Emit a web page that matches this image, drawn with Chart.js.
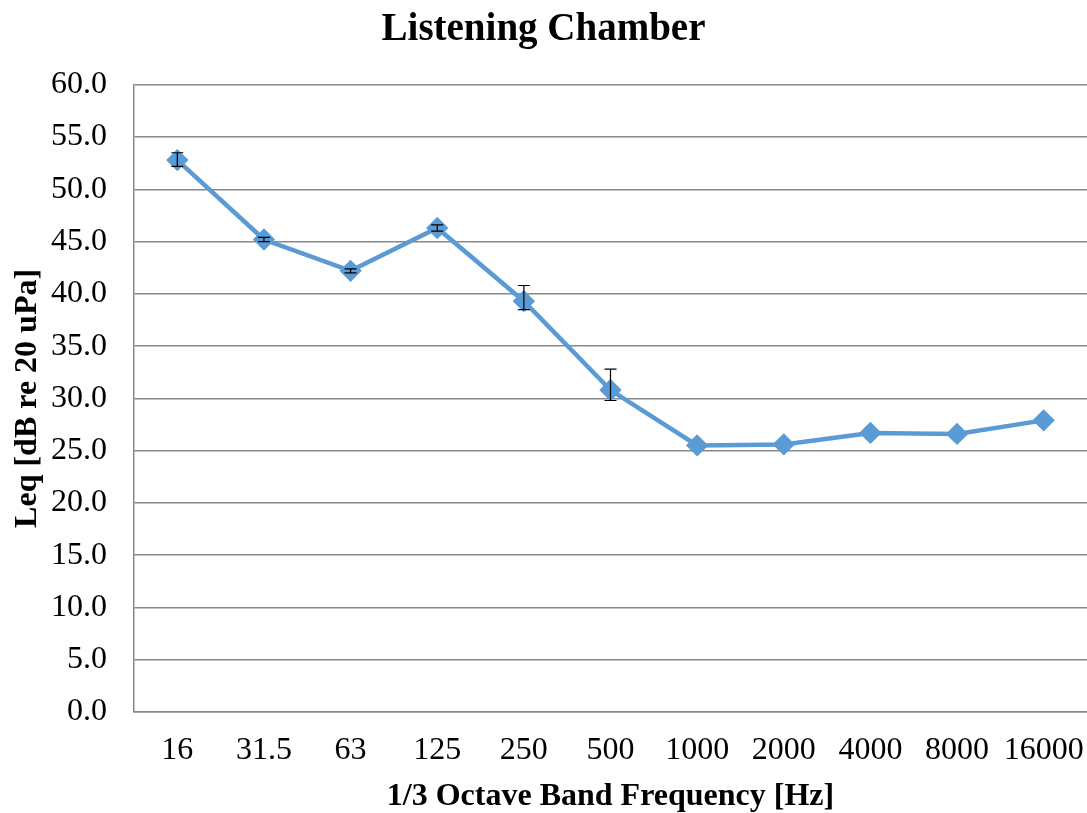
<!DOCTYPE html>
<html>
<head>
<meta charset="utf-8">
<script src="https://cdn.jsdelivr.net/npm/chart.js@4.4.0/dist/chart.umd.min.js"></script>
<style>
  html, body { margin: 0; padding: 0; background: #fff; overflow: hidden; }
  #wrap { width: 1087px; height: 813px; }
</style>
</head>
<body>
<div id="wrap"><canvas id="chart"></canvas></div>
<script>
const bands = ["16", "31.5", "63", "125", "250", "500", "1000", "2000", "4000", "8000", "16000"];
const leq = [52.8, 45.2, 42.2, 46.3, 39.3, 30.8, 25.5, 25.6, 26.7, 26.6, 27.9];
// error bar ends (null = no bar drawn)
const errHigh = [53.5, 45.4, 42.4, 46.6, 40.8, 32.8, null, null, null, null, null];
const errLow = [52.2, 45.0, 42.0, 46.0, 38.5, 29.8, null, null, null, null, null];

const serif = "'Liberation Serif', 'Times New Roman', serif";

// draws the black whiskers on top of the line
const errorBars = {
  id: "errorBars",
  afterDatasetsDraw(chart) {
    const meta = chart.getDatasetMeta(0);
    const y = chart.scales.y;
    const ctx = chart.ctx;
    ctx.save();
    ctx.strokeStyle = "#000";
    ctx.lineWidth = 1.2;
    meta.data.forEach((pt, i) => {
      if (errHigh[i] == null) return;
      const top = y.getPixelForValue(errHigh[i]);
      const bot = y.getPixelForValue(errLow[i]);
      ctx.beginPath();
      ctx.moveTo(pt.x, top);
      ctx.lineTo(pt.x, bot);
      ctx.moveTo(pt.x - 6, top);
      ctx.lineTo(pt.x + 6, top);
      ctx.moveTo(pt.x - 6, bot);
      ctx.lineTo(pt.x + 6, bot);
      ctx.stroke();
    });
    ctx.restore();
  },
};

new Chart(document.getElementById("chart"), {
  type: "line",
  plugins: [errorBars],
  data: {
    labels: bands,
    datasets: [{
      data: leq,
      borderColor: "#5B9BD5",
      backgroundColor: "#5B9BD5",
      borderWidth: 4.5,
      pointStyle: "rectRot",
      pointRadius: 8,
      pointHoverRadius: 8,
      tension: 0,
    }],
  },
  options: {
    responsive: true,
    maintainAspectRatio: false,
    animation: false,
    layout: { padding: 0, autoPadding: false },
    plugins: {
      legend: { display: false },
      tooltip: { enabled: false },
      title: {
        display: true,
        text: "Listening Chamber",
        color: "#000",
        font: { family: serif, size: 39, weight: "bold", lineHeight: 1.2 },
        padding: { top: 7, bottom: 31 },
      },
    },
    scales: {
      x: {
        offset: true,
        afterFit: (s) => { s.height = 101; s.paddingLeft = 0; s.paddingRight = 0; },
        grid: { display: true, drawOnChartArea: false, drawTicks: true, tickLength: 20, tickColor: "rgba(0,0,0,0)" },
        border: { display: true, color: "#888", width: 1.5 },
        ticks: { color: "#000", font: { family: serif, size: 32, lineHeight: 1.0 }, padding: 3, maxRotation: 0, autoSkip: false },
        title: {
          display: true,
          text: "1/3 Octave Band Frequency [Hz]",
          color: "#000",
          font: { family: serif, size: 32, weight: "bold", lineHeight: 1.0 },
          padding: { top: 0, bottom: 0 },
        },
      },
      y: {
        min: 0,
        max: 60,
        afterFit: (s) => { s.width = 134; },
        grid: { color: "#888", lineWidth: 1.5, drawTicks: false },
        border: { display: true, color: "#888", width: 1.5 },
        ticks: {
          stepSize: 5,
          color: "#000",
          font: { family: serif, size: 32, lineHeight: 1.0 },
          padding: 27,
          callback: (v) => Number(v).toFixed(1),
        },
        title: {
          display: true,
          text: "Leq [dB re 20 uPa]",
          color: "#000",
          font: { family: serif, size: 32, weight: "bold", lineHeight: 1.0 },
          padding: { top: 12, bottom: 0 },
        },
      },
    },
  },
});
</script>
</body>
</html>
